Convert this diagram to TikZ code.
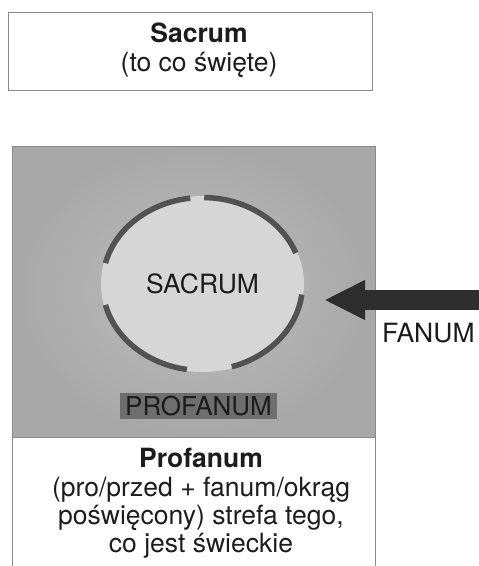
\documentclass[tikz,border=0pt]{standalone}
\usepackage{fontspec}
\setmainfont{TeX Gyre Heros}
\usetikzlibrary{arrows.meta,shapes.geometric}

\definecolor{ink}{HTML}{1C1C1C}
\definecolor{boxline}{HTML}{8A8A8A}
\definecolor{zonelight}{HTML}{BDBDBD}
\definecolor{zonedark}{HTML}{A8A8A8}
\definecolor{corefill}{HTML}{D6D6D6}
\definecolor{ring}{HTML}{525252}
\definecolor{tagfill}{HTML}{6E6E6E}
\definecolor{arrowfill}{HTML}{2E2E2E}

\begin{document}
\begin{tikzpicture}[x=1pt,y=1pt,
  every node/.style={font=\fontsize{26.5}{28.3}\selectfont, text=ink},
  box/.style={draw=boxline, line width=1pt, fill=white, inner sep=0pt},
  zone/.style={draw=boxline, line width=1pt, inner color=zonelight, outer color=zonedark, inner sep=0pt},
  core/.style={ellipse, fill=corefill, inner sep=0pt, text height=19pt, text depth=0pt},
  ringseg/.style={draw=ring, line width=5.5pt},
  tag/.style={fill=tagfill, inner sep=0pt, text height=19pt, text depth=0pt, font=\fontsize{26}{28}\selectfont},
  bigarrow/.style={draw=arrowfill, line width=20pt, -{Triangle[length=41pt,width=37pt]}}
]
\useasboundingbox (0,0) rectangle (479,-566);
\fill[white] (0,0) rectangle (479,-566);

% upper box
\node[box, minimum width=364pt, minimum height=78pt] (sacrumbox) at (190,-51) {};
\node[anchor=north, inner sep=0pt, align=center, font=\fontsize{26.5}{29}\selectfont]
  (sacrumtext) at (199,-22.5) {\textbf{Sacrum}\\(to co święte)};

% profane zone
\node[zone, minimum width=363pt, minimum height=291pt] (zonebox) at (193.5,-291.5) {};

% lower box, open at the bottom
\fill[white] (12,-437) rectangle (375,-580);
\draw[boxline, line width=1pt] (12,-437) -- (12,-580);
\draw[boxline, line width=1pt] (375,-437) -- (375,-580);
\draw[boxline, line width=1pt] (zonebox.south west) -- (zonebox.south east);
\node[anchor=north, inner sep=0pt, align=center] (profanumtext) at (201,-448.2)
  {\textbf{Profanum}\\(pro/przed + fanum/okrąg\\poświęcony) strefa tego,\\co jest świeckie};

% sacred circle
\node[core, minimum width=203pt, minimum height=176pt] (sacrum) at (202.5,-284) {SACRUM};
\draw[ringseg] (sacrum.center) ++(97:100 and 86.5)  arc[start angle=97,  end angle=166, x radius=100, y radius=86.5];
\draw[ringseg] (sacrum.center) ++(21:100 and 86.5)  arc[start angle=21,  end angle=89,  x radius=100, y radius=86.5];
\draw[ringseg] (sacrum.center) ++(-73:100 and 86.5) arc[start angle=-73, end angle=-7,  x radius=100, y radius=86.5];
\draw[ringseg] (sacrum.center) ++(-166:100 and 86.5) arc[start angle=-166, end angle=-99, x radius=100, y radius=86.5];

% label of the profane zone
\node[tag, minimum width=157pt, minimum height=26pt] (profanumtag) at (198.5,-406) {PROFANUM};

% incoming arrow
\coordinate (fanumin) at (490,-300);
\draw[bigarrow, shorten >=20pt] (fanumin) -- (sacrum.east |- fanumin);
\node[anchor=west, inner sep=0pt, text height=19pt, text depth=0pt] (fanum) at (382,-332.5) {FANUM};
\end{tikzpicture}
\end{document}
